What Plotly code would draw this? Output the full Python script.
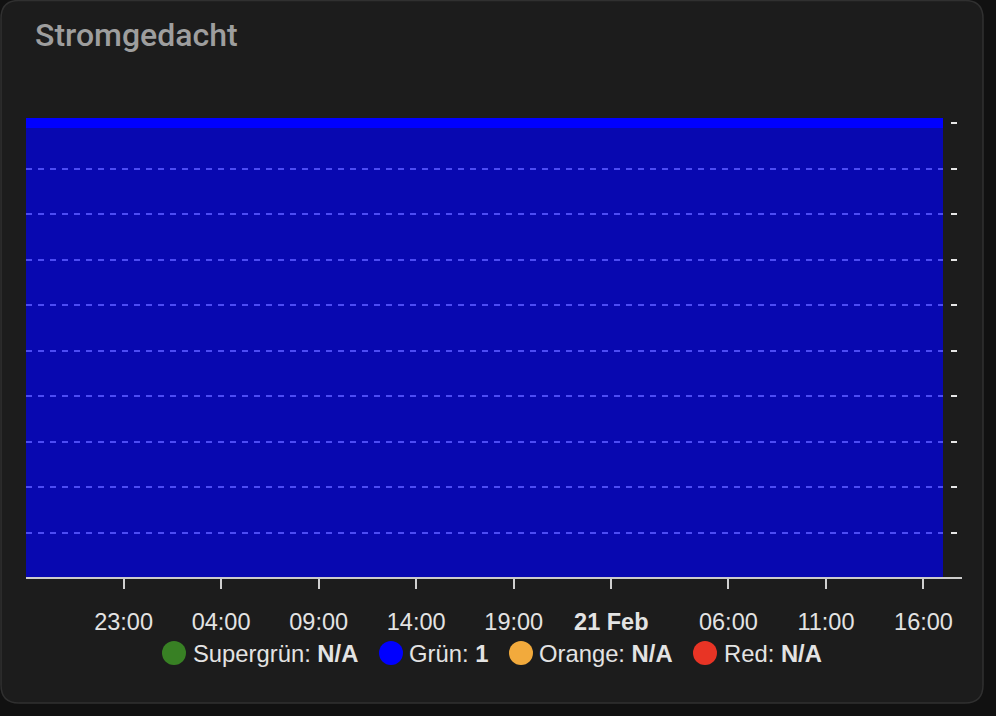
import plotly.graph_objects as go

# ---------------- data ----------------
series_names = ["Supergrün", "Grün", "Orange", "Red"]
series_colors = ["#388024", "#0000ff", "#f2aa3c", "#e83425"]
legend_values = ["N/A", "1", "N/A", "N/A"]

gruen_times = ["2024-02-19 18:00", "2024-02-21 17:00"]
gruen_values = [1, 1]
empty_times = []
empty_values = []

x_tick_times = ["2024-02-19 23:00", "2024-02-20 04:00", "2024-02-20 09:00",
                "2024-02-20 14:00", "2024-02-20 19:00", "2024-02-21 00:00",
                "2024-02-21 06:00", "2024-02-21 11:00", "2024-02-21 16:00"]
x_tick_labels = ["23:00", "04:00", "09:00", "14:00", "19:00", "<b>21 Feb</b>",
                 "06:00", "11:00", "16:00"]
y_tick_values = [0, 0.1, 0.2, 0.3, 0.4, 0.5, 0.6, 0.7, 0.8, 0.9, 1.0]

# ---------------- layout geometry (pixels) ----------------
W, H = 996, 716
ML, MR, MT, MB = 26, 34, 118, 138
PW = W - ML - MR
PH = H - MT - MB


def px_x(px):
    return (px - ML) / PW


def px_y(py):
    return (H - MB - py) / PH


FONT = "Liberation Sans, Arial, sans-serif"
TEXT_COLOR = "#e3e3e3"

fig = go.Figure()

for name, color in zip(series_names, series_colors):
    if name == "Grün":
        fig.add_trace(go.Scatter(
            x=gruen_times, y=gruen_values, name=name, mode="lines",
            line=dict(color=color, width=10),
            fill="tozeroy", fillcolor="rgba(0,0,240,0.7)",
            showlegend=False, hoverinfo="skip"))
    else:
        fig.add_trace(go.Scatter(
            x=empty_times, y=empty_values, name=name, mode="lines",
            line=dict(color=color), showlegend=False))

# card background
r = 18
L, T, R, B = 1, 0.5, 983, 703
card_path = (
    f"M {px_x(L + r)},{px_y(T)} L {px_x(R - r)},{px_y(T)} "
    f"Q {px_x(R)},{px_y(T)} {px_x(R)},{px_y(T + r)} "
    f"L {px_x(R)},{px_y(B - r)} Q {px_x(R)},{px_y(B)} {px_x(R - r)},{px_y(B)} "
    f"L {px_x(L + r)},{px_y(B)} Q {px_x(L)},{px_y(B)} {px_x(L)},{px_y(B - r)} "
    f"L {px_x(L)},{px_y(T + r)} Q {px_x(L)},{px_y(T)} {px_x(L + r)},{px_y(T)} Z"
)
shapes = [
    dict(type="path", path=card_path, xref="paper", yref="paper",
         fillcolor="#1c1c1c", line=dict(color="#303030", width=1.5), layer="below"),
    dict(type="line", xref="paper", yref="paper", x0=0, x1=1, y0=0, y1=0,
         line=dict(color="#cccccc", width=2), layer="above"),
]

# custom legend
legend_circle_x = [174, 391, 521, 705]
legend_text_x = [191, 407, 537, 722]
legend_y = 653
annotations = []
for name, color, val, cx, tx in zip(series_names, series_colors, legend_values,
                                    legend_circle_x, legend_text_x):
    shapes.append(dict(type="circle", xref="paper", yref="paper",
                       xsizemode="pixel", ysizemode="pixel",
                       xanchor=px_x(cx), yanchor=px_y(legend_y),
                       x0=-12, x1=12, y0=-12, y1=12,
                       fillcolor=color, line=dict(width=0), layer="above"))
    annotations.append(dict(text=f"{name}: <b>{val}</b>", xref="paper", yref="paper",
                            x=px_x(tx), y=px_y(legend_y), xanchor="left", yanchor="middle",
                            showarrow=False,
                            font=dict(family=FONT, size=23.8, color=TEXT_COLOR)))

fig.update_layout(
    width=W, height=H, autosize=False,
    margin=dict(l=ML, r=MR, t=MT, b=MB, pad=0),
    paper_bgcolor="#111111", plot_bgcolor="rgba(0,0,0,0)",
    showlegend=False,
    title=dict(text="Stromgedacht", x=35 / W, xanchor="left", xref="container",
               y=1 - 35 / H, yanchor="middle", yref="container",
               font=dict(family="Roboto", size=32, color="#9e9e9e", weight=500)),
    xaxis=dict(type="date", domain=[0, 917 / PW],
               range=[gruen_times[0], gruen_times[-1]],
               tickmode="array", tickvals=x_tick_times, ticktext=x_tick_labels,
               ticks="outside", ticklen=10, tickwidth=2, tickcolor="#cfcfcf",
               ticklabelstandoff=13,
               showgrid=False, zeroline=False, showline=False,
               tickfont=dict(family=FONT, size=23.5, color=TEXT_COLOR)),
    yaxis=dict(range=[0, 1.011], anchor="free", position=px_x(950), side="right",
               tickmode="array", tickvals=y_tick_values,
               ticks="outside", ticklen=6, tickwidth=2, tickcolor="#e6e6e6",
               showticklabels=False, showgrid=True, gridcolor="#ffffff",
               gridwidth=2, griddash="6px,6px", zeroline=False, showline=False),
    shapes=shapes, annotations=annotations,
)

fig.write_html("out.html")
